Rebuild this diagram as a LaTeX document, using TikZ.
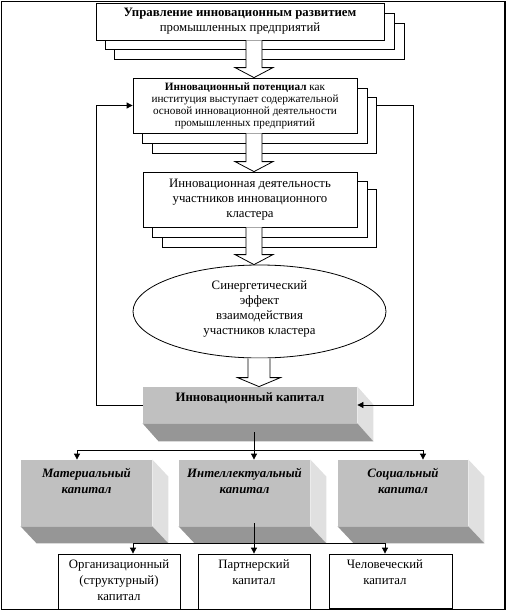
\documentclass[tikz,border=0pt]{standalone}
\usepackage{fontspec}
\setmainfont{Liberation Serif}
\usetikzlibrary{shapes.geometric,arrows.meta,calc}
\definecolor{frontgray}{HTML}{C0C0C0}
\definecolor{botgray}{HTML}{969696}
\definecolor{rightgray}{HTML}{E0E0E0}
\newcommand\barrow[5]{%
  \draw[fill=white] ($(#1)+(-#3,0)$) -- ($(#2)+(-#3,-#5)$) -- ($(#2)+(-#4,-#5)$) -- (#2)
    -- ($(#2)+(#4,-#5)$) -- ($(#2)+(#3,-#5)$) -- ($(#1)+(#3,0)$);}
\newcommand\threed[3]{%
  \fill[rightgray] (#1.north east) -- ++(#2,#3) -- ($(#1.south east)+(#2,#3)$) -- (#1.south east) -- cycle;
  \fill[botgray] (#1.south west) -- (#1.south east) -- ++(#2,#3) -- ($(#1.south west)+(#2,#3)$) -- cycle;}
\begin{document}
\begin{tikzpicture}[x=1pt,y=-1pt,line width=0.8pt,
  box/.style={draw,fill=white,inner sep=0pt},
  face/.style={fill=frontgray,inner sep=0pt},
  txt/.style={align=center,inner sep=0pt,font=\fontsize{12.8}{15}\selectfont},
  conn/.style={-{Triangle[width=6pt,length=6pt]}}]
\useasboundingbox (0,0) rectangle (507,613);
\draw[line width=1.2pt] (1.5,1.5) rectangle (505,609.5);
% box 1
\node[box,minimum width=290pt,minimum height=36pt] (b1s2) at (259,41) {};
\node[box,minimum width=289pt,minimum height=36pt] (b1s1) at (249.5,31) {};
\node[box,txt,minimum width=288pt,minimum height=37pt] (b1) at (240,21.5)
  {\textbf{Управление инновационным развитием}\\промышленных предприятий};
% box 2
\node[box,minimum width=224pt,minimum height=56pt] (b2s2) at (264,125) {};
\node[box,minimum width=225pt,minimum height=55pt] (b2s1) at (254.5,115.5) {};
\node[box,align=center,inner sep=0pt,font=\fontsize{11.2}{12}\selectfont,minimum width=224pt,minimum height=55pt] (b2) at (245,105.5)
  {\textbf{Инновационный потенциал} как\\институция выступает содержательной\\основой инновационной деятельности\\промышленных предприятий};
% box 3
\node[box,minimum width=214pt,minimum height=58pt] (b3s2) at (269,218) {};
\node[box,minimum width=215pt,minimum height=56pt] (b3s1) at (259.5,209) {};
\node[box,txt,minimum width=214pt,minimum height=55pt] (b3) at (250,199.5)
  {Инновационная деятельность\\участников инновационного\\кластера};
% ellipse
\node[draw,ellipse,fill=white,inner sep=0pt,minimum width=253pt,minimum height=93pt] (ell) at (259.5,311.5) {};
\node[txt] (ellt) at (259.5,308.5)
  {Синергетический\\эффект\\взаимодействия\\участников кластера};
% innovation capital
\node[face,minimum width=214pt,minimum height=36pt] (ic) at (250,405) {};
\threed{ic}{16}{18}
\node[txt,font=\fontsize{12.8}{15}\selectfont\bfseries] (ict) at (250,398) {Инновационный капитал};
% three capitals
\node[face,minimum width=131pt,minimum height=66pt] (mat) at (86.5,493) {};
\node[face,minimum width=131pt,minimum height=66pt] (int) at (244.5,493) {};
\node[face,minimum width=130pt,minimum height=66pt] (soc) at (403,493) {};
\threed{mat}{16}{17}
\threed{int}{16}{17}
\threed{soc}{16}{17}
\node[txt,font=\fontsize{12.8}{16}\selectfont\bfseries\itshape] (matt) at (86.5,481) {Материальный\\капитал};
\node[txt,font=\fontsize{12.8}{16}\selectfont\bfseries\itshape] (intt) at (244.5,481) {Интеллектуальный\\капитал};
\node[txt,font=\fontsize{12.8}{16}\selectfont\bfseries\itshape] (soct) at (403,481) {Социальный\\капитал};
% bottom boxes
\node[box,minimum width=122pt,minimum height=55pt] (org) at (119,581.5) {};
\node[box,minimum width=112pt,minimum height=55pt] (par) at (254,581.5) {};
\node[box,minimum width=123pt,minimum height=54pt] (hum) at (390.5,581) {};
\node[txt,font=\fontsize{12.8}{16}\selectfont,anchor=north] (orgt) at (119,559.5) {Организационный\\(структурный)\\капитал};
\node[txt,font=\fontsize{12.8}{16}\selectfont,anchor=north] (part) at (254,559.5) {Партнерский\\капитал};
\node[txt,font=\fontsize{12.8}{16}\selectfont,anchor=north] (humt) at (385,559.5) {Человеческий\\капитал};
% block arrows
\coordinate (ax) at (254,0);
\coordinate (ax4) at (259,0);
\coordinate (a1t) at (ax |- b1.south); \coordinate (a1h) at (ax |- b2.north);
\coordinate (a2t) at (ax |- b2.south); \coordinate (a2h) at (ax |- b3.north);
\coordinate (a3t) at (ax |- b3.south); \coordinate (a3h) at (ax |- ell.north);
\coordinate (a4t) at (ax4 |- ell.south); \coordinate (a4h) at (ax4 |- ic.north);
\barrow{a1t}{a1h}{8}{19}{10}
\barrow{a2t}{a2h}{8}{19}{10}
\barrow{a3t}{a3h}{8}{19}{10}
\barrow{a4t}{a4h}{11}{21.5}{9}
% feedback loops
\coordinate (fbL) at (96,0);
\coordinate (fbR) at (413,0);
\draw[conn] (ic.west) -- (ic.west -| fbL) |- (b2.west);
\draw[conn] (b2.east -| b2s2.east) -- (b2.east -| fbR) |- (ic.east);
% connectors to capitals
\coordinate (busL) at (77,450);
\coordinate (busR) at (423,450);
\coordinate (c1) at ($(ax |- ic.south)+(0,9)$);
\draw (c1) -- (ax |- busL);
\draw (busL) -- (busR);
\draw[conn] (busL) -- (busL |- mat.north);
\draw[conn] (ax |- busL) -- (ax |- int.north);
\draw[conn] (busR) -- (busR |- soc.north);
\coordinate (bus2L) at (133,543);
\coordinate (bus2R) at (385,543);
\coordinate (c2) at ($(ax |- int.south)+(0,-3)$);
\draw (c2) -- (ax |- bus2L);
\draw (bus2L) -- (bus2R);
\draw[conn] (bus2L) -- (bus2L |- org.north);
\draw[conn] (ax |- bus2L) -- (ax |- par.north);
\draw[conn] (bus2R) -- (bus2R |- hum.north);
\end{tikzpicture}
\end{document}
